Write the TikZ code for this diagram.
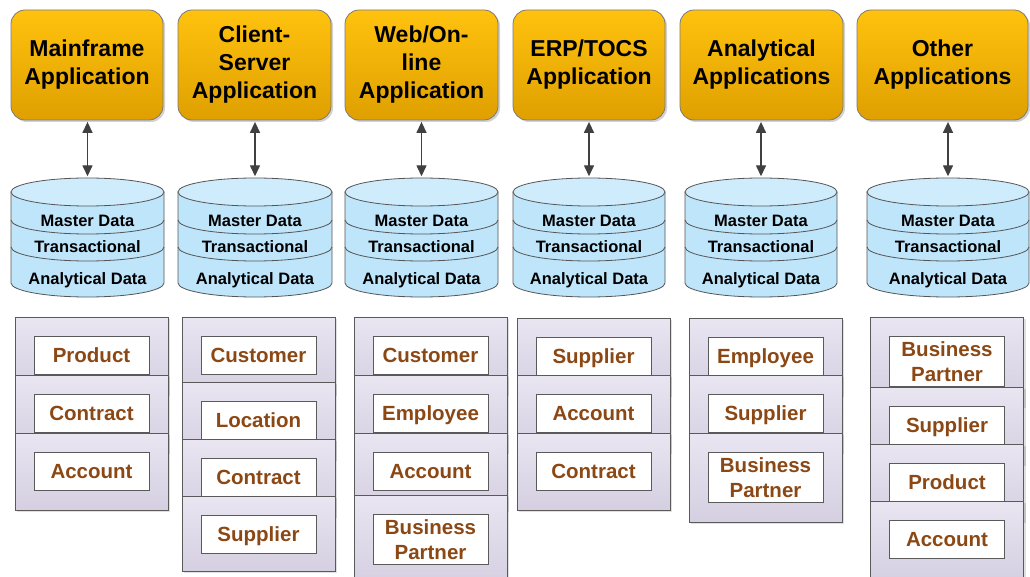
\documentclass[tikz,border=0pt]{standalone}
\usepackage{fontspec}
\setmainfont{Liberation Sans}
\usetikzlibrary{arrows.meta,shadows,calc}
\definecolor{apptop}{HTML}{FFC20E}
\definecolor{appbot}{HTML}{DFA000}
\definecolor{appline}{HTML}{7A7A7A}
\definecolor{cylfill}{HTML}{BFE5FA}
\definecolor{cyltop}{HTML}{CFECFC}
\definecolor{cylline}{HTML}{555555}
\definecolor{pantop}{HTML}{E9E5F1}
\definecolor{panbot}{HTML}{D5CFE1}
\definecolor{panline}{HTML}{5A5A5A}
\definecolor{itemtext}{HTML}{8C4814}
\definecolor{arrowc}{HTML}{404040}

\tikzset{
  app/.style={draw=appline, line width=0.8pt, rounded corners=14pt,
    top color=apptop, bottom color=appbot, align=center, inner sep=0pt,
    minimum height=110, font=\bfseries\fontsize{23}{28}\selectfont,
    drop shadow={shadow xshift=2pt, shadow yshift=-2pt, opacity=0.18, fill=black}},
  cylborder/.style={draw=cylline, line width=0.8pt},
  cyltext/.style={font=\bfseries\fontsize{16.5}{18}\selectfont, anchor=base, inner sep=0pt},
  dblarrow/.style={draw=arrowc, line width=1.4pt,
    {Triangle[width=10pt,length=11pt]}-{Triangle[width=10pt,length=11pt]},
    shorten <=1.5pt, shorten >=1.5pt},
  panel/.style={draw=panline, line width=0.8pt, top color=pantop, bottom color=panbot,
    minimum width=153, inner sep=0pt,
    drop shadow={shadow xshift=2pt, shadow yshift=-2pt, opacity=0.12, fill=black}},
  item/.style={draw=panline, line width=0.8pt, fill=white, minimum width=115, minimum height=38,
    inner sep=1pt, align=center, text=itemtext, text height=15pt, text depth=0pt,
    font=\bfseries\fontsize{20.5}{25}\selectfont},
  itemtwo/.style={draw=panline, line width=0.8pt, fill=white, minimum width=115, minimum height=50,
    inner sep=1pt, align=center, text=itemtext,
    font=\bfseries\fontsize{20.5}{25}\selectfont}
}

\newcommand\mycyl[3]{%
  \pgfmathsetmacro\cxx{(#1+#2)/2}%
  \pgfmathsetmacro\rxx{(#2-#1)/2}%
  \node[minimum width={#2-#1}, minimum height=119, inner sep=0pt] (#3) at (\cxx,237.5) {};
  \draw[cylborder, fill=cylfill] (#1,192) -- (#1,283)
     arc[start angle=180, end angle=0, x radius=\rxx, y radius=14] -- (#2,192) -- cycle;
  \draw[cylborder] (#1,220) arc[start angle=180, end angle=0, x radius=\rxx, y radius=14];
  \draw[cylborder] (#1,247) arc[start angle=180, end angle=0, x radius=\rxx, y radius=14];
  \draw[cylborder, fill=cyltop] (\cxx,192) ellipse [x radius=\rxx, y radius=14];
  \node[cyltext] (#3m) at (\cxx,227) {Master Data};
  \node[cyltext] (#3t) at (\cxx,253) {Transactional};
  \node[cyltext] (#3a) at (\cxx,284) {Analytical Data};
}

\newcommand\pitem[6]{% name, cx, top, panel height, item style, text
  \node[panel, minimum height=#4, anchor=north] (#1) at (#2,#3) {};
  \node[#5, anchor=north] (#1t) at ([yshift=-19pt]#1.north) {#6};
}

\begin{document}
\begin{tikzpicture}[x=1pt, y=-1pt]
\useasboundingbox (0,0) rectangle (1030,577);
\clip (0,0) rectangle (1030,577);
\fill[white] (0,0) rectangle (1030,577);

% application boxes
\node[app, minimum width=152] (app1) at (87,65) {Mainframe\\Application};
\node[app, minimum width=153] (app2) at (254.5,65) {Client-\\Server\\Application};
\node[app, minimum width=153] (app3) at (421.5,65) {Web/On-\\line\\Application};
\node[app, minimum width=152] (app4) at (589,65) {ERP/TOCS\\Application};
\node[app, minimum width=163] (app5) at (761.5,65) {Analytical\\Applications};
\node[app, minimum width=171] (app6) at (942.5,65) {Other\\Applications};

% databases
\mycyl{11}{164}{db1}
\mycyl{178}{332}{db2}
\mycyl{345}{498}{db3}
\mycyl{513}{665}{db4}
\mycyl{685}{837}{db5}
\mycyl{867}{1029}{db6}

% arrows
\foreach \i in {1,...,6}{
  \draw[dblarrow] (db\i.north |- app\i.south) -- (db\i.north);
}

% column 1
\pitem{pa1}{91.5}{317}{77}{item}{Product}
\pitem{pa2}{91.5}{375}{77}{item}{Contract}
\pitem{pa3}{91.5}{433}{77}{item}{Account}
% column 2
\pitem{pb1}{258.5}{317}{77}{item}{Customer}
\pitem{pb2}{258.5}{382}{77}{item}{Location}
\pitem{pb3}{258.5}{439}{77}{item}{Contract}
\pitem{pb4}{258.5}{496}{75}{item}{Supplier}
% column 3
\pitem{pc1}{430.5}{317}{77}{item}{Customer}
\pitem{pc2}{430.5}{375}{77}{item}{Employee}
\pitem{pc3}{430.5}{433}{77}{item}{Account}
\pitem{pc4}{430.5}{495}{90}{itemtwo}{Business\\Partner}
% column 4
\pitem{pd1}{593.5}{318}{77}{item}{Supplier}
\pitem{pd2}{593.5}{375}{77}{item}{Account}
\pitem{pd3}{593.5}{433}{77}{item}{Contract}
% column 5
\pitem{pe1}{765.5}{318}{77}{item}{Employee}
\pitem{pe2}{765.5}{375}{77}{item}{Supplier}
\pitem{pe3}{765.5}{433}{89}{itemtwo}{Business\\Partner}
% column 6
\pitem{pf1}{947}{317}{89}{itemtwo}{Business\\Partner}
\pitem{pf2}{947}{387}{77}{item}{Supplier}
\pitem{pf3}{947}{444}{77}{item}{Product}
\pitem{pf4}{947}{501}{80}{item}{Account}
\end{tikzpicture}
\end{document}
